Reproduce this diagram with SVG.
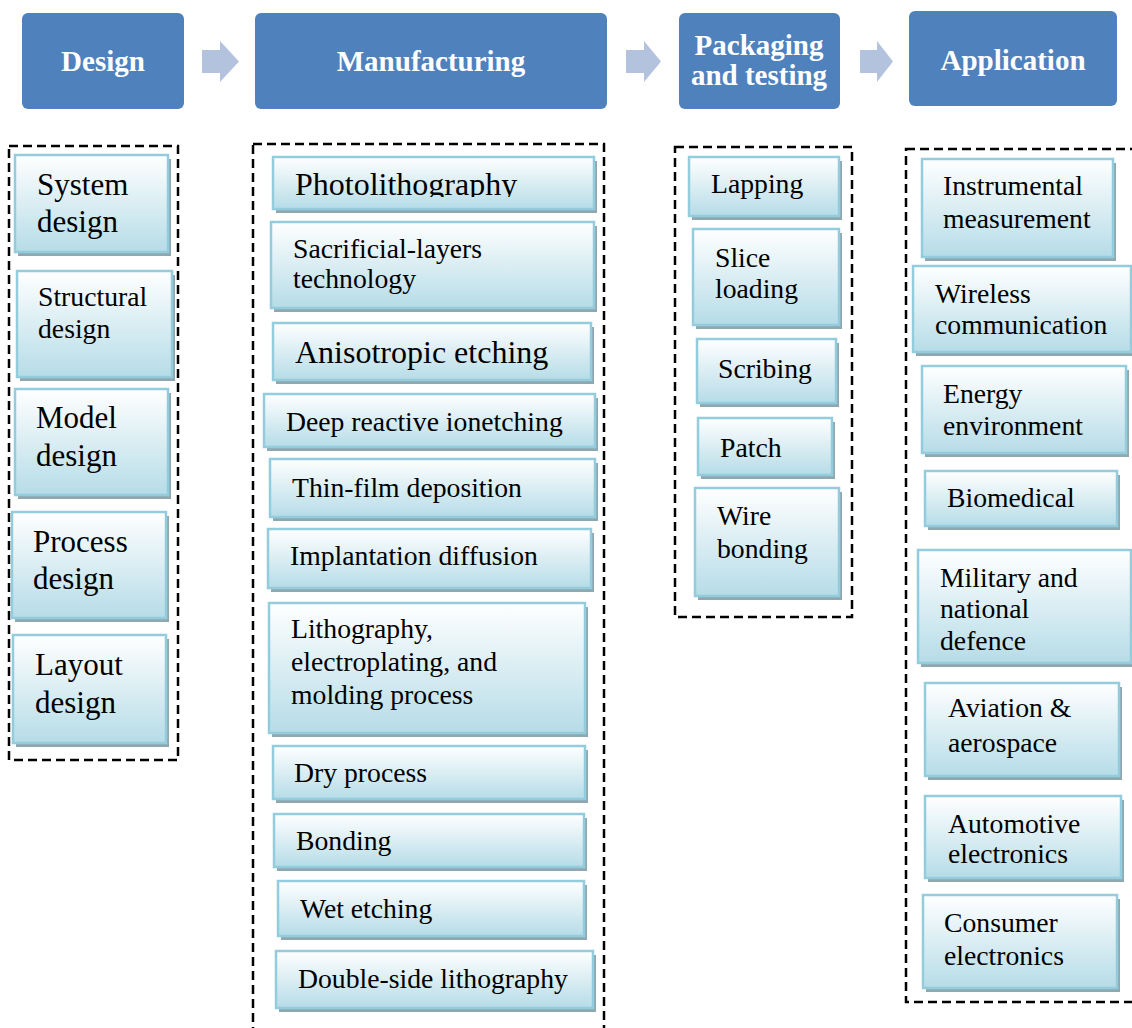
<svg xmlns="http://www.w3.org/2000/svg" width="1132" height="1028" viewBox="0 0 1132 1028">
<defs>
<linearGradient id="g" x1="0" y1="0" x2="0" y2="1">
<stop offset="0" stop-color="#FFFFFF"/>
<stop offset="1" stop-color="#B6DCE7"/>
</linearGradient>
<clipPath id="clipPhoto"><rect x="273" y="157" width="321" height="40"/></clipPath>
</defs>
<style>
.hdr{fill:#4F81BD}
.ht{font-family:"Liberation Serif","Times New Roman",serif;font-weight:bold;font-size:29px;fill:#FFFFFF;text-anchor:middle}
.arr{fill:#B3C3DE}
.dash{fill:none;stroke:#000;stroke-width:2.5;stroke-dasharray:9,5}
.sh{fill:#8FA8B0}
.box{fill:url(#g);stroke:#93CDDD;stroke-width:2.5}
.t{font-family:"Liberation Serif","Times New Roman",serif;font-size:27.7px;fill:#000}
.b{font-size:31px}
.c{font-size:32px}
</style>
<rect width="1132" height="1028" fill="#FFFFFF"/>

<g id="containers">
<rect class="dash" x="9" y="146" width="169" height="614"/>
<rect class="dash" x="253" y="144" width="351" height="900"/>
<rect class="dash" x="675" y="147" width="177" height="470"/>
<rect class="dash" x="906" y="149" width="240" height="853"/>
</g>

<g id="hdr-design"><rect class="hdr" x="22" y="13" width="162" height="96" rx="6"/><text class="ht" x="103" y="71">Design</text></g>
<g id="hdr-manufacturing"><rect class="hdr" x="255" y="13" width="352" height="96" rx="6"/><text class="ht" x="431" y="71">Manufacturing</text></g>
<g id="hdr-packaging"><rect class="hdr" x="679" y="13" width="161" height="96" rx="6"/><text class="ht" x="759" y="55">Packaging</text><text class="ht" x="759" y="85">and testing</text></g>
<g id="hdr-application"><rect class="hdr" x="909" y="11" width="208" height="95" rx="6"/><text class="ht" x="1013" y="70">Application</text></g>

<g id="connectors">
<polygon class="arr" points="202,50 220,50 220,41 239,61.5 220,82 220,73 202,73"/>
<polygon class="arr" points="626,50 644,50 644,41 661,61.5 644,82 644,73 626,73"/>
<polygon class="arr" points="860,50 877,50 877,41 893,61.5 877,82 877,73 860,73"/>
</g>

<!-- Design column -->
<g id="system-design"><rect class="sh" x="18" y="159" width="153" height="97"/><rect class="box" x="15" y="155" width="153" height="97"/><text class="t b" x="37" y="195">System</text><text class="t b" x="37" y="232">design</text></g>
<g id="structural-design"><rect class="sh" x="20" y="275" width="155" height="106"/><rect class="box" x="17" y="271" width="155" height="106"/><text class="t" x="38" y="306">Structural</text><text class="t" x="38" y="338">design</text></g>
<g id="model-design"><rect class="sh" x="18" y="393" width="153" height="106"/><rect class="box" x="15" y="389" width="153" height="106"/><text class="t b" x="36" y="428">Model</text><text class="t b" x="36" y="466">design</text></g>
<g id="process-design"><rect class="sh" x="15" y="516" width="154" height="106"/><rect class="box" x="12" y="512" width="154" height="106"/><text class="t b" x="33" y="552">Process</text><text class="t b" x="33" y="589">design</text></g>
<g id="layout-design"><rect class="sh" x="16" y="639" width="153" height="108"/><rect class="box" x="13" y="635" width="153" height="108"/><text class="t b" x="35" y="675">Layout</text><text class="t b" x="35" y="713">design</text></g>

<!-- Manufacturing column -->
<g id="photolithography"><rect class="sh" x="276" y="161" width="321" height="52"/><rect class="box" x="273" y="157" width="321" height="52"/><text class="t c" x="295" y="195" clip-path="url(#clipPhoto)">Photolithography</text></g>
<g id="sacrificial"><rect class="sh" x="274" y="226" width="323" height="86"/><rect class="box" x="271" y="222" width="323" height="86"/><text class="t" x="293" y="258">Sacrificial-layers</text><text class="t" x="293" y="288">technology</text></g>
<g id="anisotropic"><rect class="sh" x="276" y="327" width="318" height="57"/><rect class="box" x="273" y="323" width="318" height="57"/><text class="t c" x="295" y="363">Anisotropic etching</text></g>
<g id="drie"><rect class="sh" x="267" y="398" width="331" height="53"/><rect class="box" x="264" y="394" width="331" height="53"/><text class="t" x="286" y="431">Deep reactive ionetching</text></g>
<g id="thin-film"><rect class="sh" x="273" y="463" width="325" height="58"/><rect class="box" x="270" y="459" width="325" height="58"/><text class="t" x="292" y="497">Thin-film deposition</text></g>
<g id="implantation"><rect class="sh" x="271" y="533" width="323" height="59"/><rect class="box" x="268" y="529" width="323" height="59"/><text class="t" x="290" y="565">Implantation diffusion</text></g>
<g id="liga"><rect class="sh" x="272" y="607" width="316" height="130"/><rect class="box" x="269" y="603" width="316" height="130"/><text class="t" x="291" y="638">Lithography,</text><text class="t" x="291" y="671">electroplating, and</text><text class="t" x="291" y="704">molding process</text></g>
<g id="dry-process"><rect class="sh" x="276" y="750" width="312" height="53"/><rect class="box" x="273" y="746" width="312" height="53"/><text class="t" x="294" y="782">Dry process</text></g>
<g id="bonding"><rect class="sh" x="277" y="818" width="310" height="53"/><rect class="box" x="274" y="814" width="310" height="53"/><text class="t" x="296" y="850">Bonding</text></g>
<g id="wet-etching"><rect class="sh" x="281" y="885" width="306" height="55"/><rect class="box" x="278" y="881" width="306" height="55"/><text class="t" x="300" y="918">Wet etching</text></g>
<g id="double-side"><rect class="sh" x="279" y="955" width="317" height="57"/><rect class="box" x="276" y="951" width="317" height="57"/><text class="t" x="298" y="988">Double-side lithography</text></g>

<!-- Packaging column -->
<g id="lapping"><rect class="sh" x="692" y="161" width="150" height="59"/><rect class="box" x="689" y="157" width="150" height="59"/><text class="t" x="711" y="193">Lapping</text></g>
<g id="slice-loading"><rect class="sh" x="696" y="233" width="146" height="96"/><rect class="box" x="693" y="229" width="146" height="96"/><text class="t" x="715" y="267">Slice</text><text class="t" x="715" y="298">loading</text></g>
<g id="scribing"><rect class="sh" x="700" y="343" width="139" height="64"/><rect class="box" x="697" y="339" width="139" height="64"/><text class="t" x="718" y="378">Scribing</text></g>
<g id="patch"><rect class="sh" x="701" y="422" width="134" height="57"/><rect class="box" x="698" y="418" width="134" height="57"/><text class="t" x="720" y="457">Patch</text></g>
<g id="wire-bonding"><rect class="sh" x="698" y="492" width="144" height="108"/><rect class="box" x="695" y="488" width="144" height="108"/><text class="t" x="717" y="525">Wire</text><text class="t" x="717" y="558">bonding</text></g>

<!-- Application column -->
<g id="instrumental"><rect class="sh" x="925" y="163" width="191" height="98"/><rect class="box" x="922" y="159" width="191" height="98"/><text class="t" x="943" y="195">Instrumental</text><text class="t" x="943" y="228">measurement</text></g>
<g id="wireless"><rect class="sh" x="916" y="270" width="218" height="86"/><rect class="box" x="913" y="266" width="218" height="86"/><text class="t" x="935" y="303">Wireless</text><text class="t" x="935" y="334">communication</text></g>
<g id="energy"><rect class="sh" x="925" y="370" width="204" height="87"/><rect class="box" x="922" y="366" width="204" height="87"/><text class="t" x="943" y="403">Energy</text><text class="t" x="943" y="435">environment</text></g>
<g id="biomedical"><rect class="sh" x="928" y="475" width="192" height="55"/><rect class="box" x="925" y="471" width="192" height="55"/><text class="t" x="947" y="507">Biomedical</text></g>
<g id="military"><rect class="sh" x="921" y="554" width="213" height="113"/><rect class="box" x="918" y="550" width="213" height="113"/><text class="t" x="940" y="587">Military and</text><text class="t" x="940" y="618">national</text><text class="t" x="940" y="650">defence</text></g>
<g id="aviation"><rect class="sh" x="928" y="687" width="194" height="93"/><rect class="box" x="925" y="683" width="194" height="93"/><text class="t" x="948" y="717">Aviation &amp;</text><text class="t" x="948" y="752">aerospace</text></g>
<g id="automotive"><rect class="sh" x="928" y="800" width="196" height="82"/><rect class="box" x="925" y="796" width="196" height="82"/><text class="t" x="948" y="833">Automotive</text><text class="t" x="948" y="863">electronics</text></g>
<g id="consumer"><rect class="sh" x="926" y="899" width="194" height="93"/><rect class="box" x="923" y="895" width="194" height="93"/><text class="t" x="944" y="932">Consumer</text><text class="t" x="944" y="965">electronics</text></g>
</svg>
